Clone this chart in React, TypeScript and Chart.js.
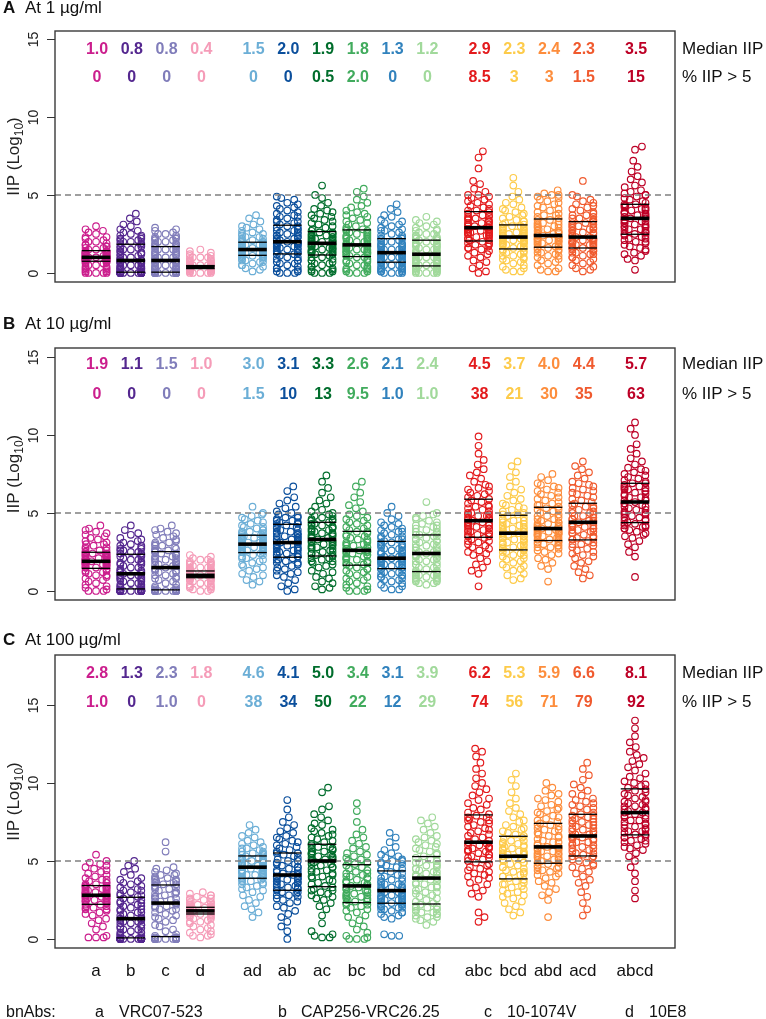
import { useEffect, useRef } from "react";
import { Chart, registerables } from "chart.js";
Chart.register(...registerables);

const FONT = "'Liberation Sans', Arial, Helvetica, sans-serif";

const groups = ["a", "b", "c", "d", "ad", "ab", "ac", "bc", "bd", "cd", "abc", "bcd", "abd", "acd", "abcd"];
const groupPos = [0, 1, 2, 3, 4.5, 5.5, 6.5, 7.5, 8.5, 9.5, 11, 12, 13, 14, 15.5];
const groupColors = [
  "#CB1E8D", "#54278F", "#807DBA", "#F59CB8", "#6BAED6", "#0B4F9C", "#006D2C", "#41AB5D",
  "#3182BD", "#A1D99B", "#E31A1C", "#FDCB4A", "#FD8D3C", "#F05A2E", "#BD0026",
];
const yTickValues = [0, 5, 10, 15];
const thresholdValue = 5;
const rowLabels = ["Median IIP", "% IIP > 5"];
const footnoteLabel = "bnAbs:";
const footnoteKeys = ["a", "b", "c", "d"];
const footnoteNames = ["VRC07-523", "CAP256-VRC26.25", "10-1074V", "10E8"];

// ---------- Panel A: at 1 µg/ml ----------
const medianTextA = ["1.0", "0.8", "0.8", "0.4", "1.5", "2.0", "1.9", "1.8", "1.3", "1.2", "2.9", "2.3", "2.4", "2.3", "3.5"];
const pctTextA = ["0", "0", "0", "0", "0", "0", "0.5", "2.0", "0", "0", "8.5", "3", "3", "1.5", "15"];
const q1A = [0.75, 0.05, 0.05, 0.28, 1.13, 1.22, 1.15, 1.05, 0.69, 0.45, 2.05, 1.54, 1.65, 1.6, 2.48];
const q3A = [1.43, 1.84, 1.69, 0.45, 1.97, 3.06, 2.65, 2.76, 2.2, 2.1, 3.93, 3.08, 3.46, 3.29, 4.4];
const iipA: number[][] = [
  [0,0,0,0,0,0.1,0.1,0.2,0.2,0.3,0.3,0.4,0.4,0.5,0.5,0.6,0.6,0.7,0.7,0.7, 0.8,0.8,0.8,0.8,0.8,0.9,0.9,0.9,0.9,0.9,0.9,0.9,1.0,1.0,1.0,1.0,1.0,1.0,1.0,1.0, 1.0,1.0,1.1,1.1,1.1,1.1,1.1,1.2,1.2,1.2,1.2,1.3,1.3,1.3,1.3,1.3,1.4,1.4,1.4,1.4, 1.5,1.5,1.6,1.6,1.7,1.7,1.8,1.8,1.9,2.0,2.0,2.1,2.2,2.3,2.3,2.5,2.6,2.7,2.8,3.0],
  [0,0,0,0,0,0,0,0,0,0,0,0,0,0,0,0,0,0,0,0.1, 0.1,0.1,0.2,0.2,0.2,0.3,0.3,0.3,0.4,0.4,0.4,0.5,0.5,0.5,0.6,0.6,0.7,0.7,0.7,0.8, 0.8,0.9,0.9,1.0,1.0,1.1,1.1,1.2,1.2,1.3,1.3,1.4,1.4,1.5,1.5,1.6,1.6,1.7,1.7,1.8, 1.9,1.9,2.0,2.0,2.1,2.1,2.2,2.2,2.3,2.4,2.4,2.5,2.6,2.7,2.8,3.0,3.1,3.3,3.5,3.8],
  [0,0,0,0,0,0,0,0,0,0,0,0,0,0,0,0,0,0,0,0.1, 0.1,0.1,0.2,0.2,0.2,0.3,0.3,0.3,0.4,0.4,0.4,0.5,0.5,0.5,0.6,0.6,0.7,0.7,0.7,0.8, 0.8,0.9,0.9,1.0,1.0,1.0,1.1,1.1,1.2,1.2,1.3,1.3,1.4,1.4,1.5,1.5,1.5,1.6,1.6,1.7, 1.7,1.8,1.8,1.9,1.9,2.0,2.0,2.1,2.1,2.2,2.2,2.3,2.3,2.4,2.5,2.5,2.6,2.7,2.8,2.9],
  [0,0,0,0,0,0.1,0.1,0.1,0.1,0.1,0.2,0.2,0.2,0.2,0.2,0.2,0.3,0.3,0.3,0.3, 0.3,0.3,0.3,0.3,0.3,0.3,0.3,0.3,0.4,0.4,0.4,0.4,0.4,0.4,0.4,0.4,0.4,0.4,0.4,0.4, 0.4,0.4,0.4,0.4,0.4,0.4,0.4,0.4,0.4,0.4,0.5,0.5,0.5,0.5,0.5,0.5,0.5,0.5,0.5,0.5, 0.5,0.6,0.6,0.6,0.7,0.7,0.7,0.8,0.8,0.9,0.9,1.0,1.0,1.0,1.1,1.1,1.2,1.3,1.4,1.5],
  [0.1,0.2,0.3,0.4,0.5,0.5,0.6,0.7,0.7,0.8,0.8,0.9,0.9,1.0,1.0,1.0,1.1,1.1,1.1,1.1, 1.2,1.2,1.2,1.2,1.3,1.3,1.3,1.3,1.3,1.4,1.4,1.4,1.4,1.4,1.4,1.5,1.5,1.5,1.5,1.5, 1.5,1.5,1.6,1.6,1.6,1.6,1.7,1.7,1.7,1.7,1.8,1.8,1.8,1.8,1.8,1.9,1.9,1.9,1.9,2.0, 2.0,2.0,2.1,2.1,2.2,2.2,2.3,2.3,2.4,2.5,2.5,2.6,2.7,2.8,2.9,3.0,3.1,3.3,3.5,3.7],
  [0,0,0,0.1,0.1,0.2,0.3,0.3,0.4,0.5,0.6,0.6,0.7,0.8,0.8,0.9,1.0,1.0,1.1,1.2, 1.2,1.3,1.3,1.4,1.4,1.5,1.5,1.6,1.6,1.6,1.7,1.7,1.8,1.8,1.8,1.9,1.9,1.9,2.0,2.0, 2.0,2.1,2.1,2.2,2.2,2.3,2.3,2.4,2.4,2.5,2.5,2.6,2.6,2.7,2.7,2.8,2.8,2.9,3.0,3.0, 3.1,3.2,3.3,3.3,3.4,3.5,3.6,3.6,3.7,3.8,3.9,4.0,4.1,4.2,4.3,4.4,4.5,4.7,4.8,4.9],
  [0,0,0,0.1,0.1,0.2,0.2,0.3,0.4,0.4,0.5,0.6,0.6,0.7,0.8,0.8,0.9,1.0,1.0,1.1, 1.2,1.2,1.3,1.3,1.3,1.4,1.4,1.4,1.5,1.5,1.5,1.6,1.6,1.6,1.7,1.7,1.7,1.8,1.8,1.8, 1.9,1.9,2.0,2.0,2.0,2.1,2.1,2.1,2.2,2.2,2.3,2.3,2.3,2.4,2.4,2.5,2.5,2.5,2.6,2.6, 2.7,2.8,2.9,3.0,3.1,3.2,3.3,3.4,3.5,3.6,3.7,3.8,3.9,4.0,4.1,4.3,4.5,4.8,5.0,5.6],
  [0,0,0,0.1,0.1,0.2,0.2,0.3,0.3,0.4,0.5,0.5,0.6,0.7,0.7,0.8,0.8,0.9,1.0,1.0, 1.1,1.1,1.2,1.2,1.3,1.3,1.3,1.4,1.4,1.4,1.5,1.5,1.5,1.6,1.6,1.6,1.7,1.7,1.7,1.8, 1.8,1.9,1.9,2.0,2.0,2.1,2.1,2.2,2.2,2.3,2.3,2.4,2.4,2.5,2.5,2.6,2.6,2.7,2.7,2.8, 2.8,2.9,3.0,3.1,3.2,3.3,3.4,3.5,3.6,3.7,3.8,3.9,4.0,4.2,4.3,4.5,4.7,4.9,5.2,5.4],
  [0,0,0,0,0.1,0.1,0.1,0.2,0.2,0.3,0.3,0.3,0.4,0.4,0.5,0.5,0.5,0.6,0.6,0.7, 0.7,0.7,0.8,0.8,0.8,0.9,0.9,0.9,1.0,1.0,1.0,1.1,1.1,1.1,1.1,1.2,1.2,1.2,1.2,1.3, 1.3,1.3,1.4,1.4,1.5,1.5,1.5,1.6,1.6,1.7,1.7,1.8,1.8,1.9,1.9,2.0,2.0,2.1,2.1,2.2, 2.2,2.3,2.4,2.4,2.5,2.6,2.7,2.7,2.8,2.9,3.0,3.1,3.2,3.3,3.4,3.6,3.7,3.9,4.1,4.4],
  [0,0,0,0,0,0.1,0.1,0.1,0.1,0.2,0.2,0.2,0.3,0.3,0.3,0.3,0.4,0.4,0.4,0.4, 0.5,0.5,0.5,0.6,0.6,0.6,0.7,0.7,0.7,0.8,0.8,0.8,0.9,0.9,0.9,1.0,1.0,1.0,1.1,1.1, 1.2,1.2,1.3,1.3,1.4,1.4,1.5,1.5,1.6,1.6,1.7,1.7,1.8,1.8,1.9,1.9,1.9,2.0,2.0,2.1, 2.1,2.2,2.2,2.3,2.3,2.4,2.4,2.5,2.5,2.6,2.7,2.7,2.8,2.9,3.0,3.1,3.2,3.3,3.4,3.6],
  [0,0.1,0.3,0.5,0.7,0.8,1.0,1.1,1.2,1.3,1.4,1.5,1.6,1.6,1.7,1.8,1.8,1.9,1.9,2.0, 2.1,2.1,2.2,2.2,2.3,2.3,2.4,2.4,2.5,2.5,2.5,2.6,2.6,2.6,2.7,2.7,2.7,2.8,2.8,2.8, 2.9,2.9,3.0,3.0,3.1,3.1,3.2,3.2,3.3,3.3,3.4,3.4,3.5,3.5,3.6,3.6,3.7,3.7,3.8,3.9, 4.0,4.0,4.1,4.2,4.3,4.4,4.5,4.6,4.7,4.8,4.9,5.0,5.0,5.2,5.4,5.7,5.9,6.7,7.4,7.8],
  [0.1,0.1,0.2,0.3,0.4,0.5,0.6,0.7,0.8,0.9,0.9,1.0,1.1,1.1,1.2,1.3,1.3,1.4,1.4,1.5, 1.6,1.6,1.7,1.7,1.8,1.8,1.8,1.9,1.9,1.9,2.0,2.0,2.0,2.1,2.1,2.1,2.2,2.2,2.2,2.2, 2.3,2.3,2.4,2.4,2.4,2.5,2.5,2.6,2.6,2.6,2.7,2.7,2.8,2.8,2.9,2.9,2.9,3.0,3.0,3.1, 3.1,3.2,3.3,3.3,3.4,3.5,3.6,3.7,3.8,3.9,4.0,4.1,4.2,4.4,4.5,4.7,4.9,5.2,5.6,6.1],
  [0.1,0.1,0.2,0.3,0.5,0.6,0.7,0.8,0.9,1.0,1.1,1.1,1.2,1.3,1.3,1.4,1.5,1.5,1.6,1.6, 1.7,1.7,1.8,1.8,1.9,1.9,2.0,2.0,2.0,2.1,2.1,2.1,2.2,2.2,2.2,2.3,2.3,2.3,2.4,2.4, 2.4,2.5,2.5,2.6,2.6,2.7,2.7,2.8,2.8,2.9,2.9,3.0,3.0,3.1,3.1,3.2,3.2,3.3,3.4,3.4, 3.5,3.6,3.7,3.7,3.8,3.9,4.0,4.1,4.2,4.3,4.4,4.5,4.6,4.7,4.8,4.9,5.0,5.0,5.1,5.3],
  [0.1,0.2,0.3,0.4,0.5,0.6,0.7,0.8,0.9,1.0,1.0,1.1,1.2,1.2,1.3,1.3,1.4,1.4,1.5,1.5, 1.6,1.6,1.7,1.7,1.8,1.8,1.8,1.9,1.9,1.9,2.0,2.0,2.0,2.1,2.1,2.1,2.2,2.2,2.2,2.3, 2.3,2.4,2.4,2.5,2.5,2.6,2.6,2.7,2.7,2.8,2.8,2.9,2.9,3.0,3.0,3.1,3.1,3.2,3.2,3.3, 3.3,3.4,3.5,3.5,3.6,3.7,3.7,3.8,3.9,4.0,4.1,4.2,4.3,4.4,4.5,4.6,4.7,4.9,5.0,5.9],
  [0.2,0.8,0.9,1.1,1.2,1.3,1.4,1.5,1.6,1.7,1.8,1.9,2.0,2.0,2.1,2.2,2.2,2.3,2.4,2.4, 2.5,2.5,2.6,2.6,2.7,2.7,2.8,2.8,2.9,2.9,3.0,3.0,3.1,3.1,3.2,3.2,3.3,3.3,3.4,3.4, 3.5,3.5,3.6,3.6,3.7,3.7,3.8,3.8,3.9,3.9,4.0,4.0,4.1,4.1,4.2,4.2,4.3,4.3,4.4,4.4, 4.5,4.6,4.7,4.8,4.9,5.0,5.0,5.1,5.2,5.3,5.5,5.6,5.8,6.0,6.2,6.5,6.8,7.2,7.9,8.1],
];

// ---------- Panel B: at 10 µg/ml ----------
const medianTextB = ["1.9", "1.1", "1.5", "1.0", "3.0", "3.1", "3.3", "2.6", "2.1", "2.4", "4.5", "3.7", "4.0", "4.4", "5.7"];
const pctTextB = ["0", "0", "0", "0", "1.5", "10", "13", "9.5", "1.0", "1.0", "38", "21", "30", "35", "63"];
const q1B = [1.45, 0.13, 0.07, 0.85, 2.46, 2.16, 2.24, 1.65, 1.43, 1.24, 3.44, 2.63, 3.23, 3.27, 4.38];
const q3B = [2.48, 2.35, 2.52, 1.28, 3.57, 4.27, 4.4, 3.82, 3.18, 3.59, 5.88, 4.85, 5.36, 5.62, 6.9];
const iipB: number[][] = [
  [0,0,0,0.1,0.2,0.3,0.4,0.5,0.6,0.7,0.8,0.9,1.0,1.0,1.1,1.2,1.2,1.3,1.3,1.4, 1.5,1.5,1.5,1.6,1.6,1.6,1.7,1.7,1.7,1.7,1.8,1.8,1.8,1.8,1.8,1.9,1.9,1.9,1.9,1.9, 2.0,2.0,2.0,2.0,2.1,2.1,2.1,2.1,2.2,2.2,2.2,2.3,2.3,2.3,2.3,2.4,2.4,2.4,2.4,2.5, 2.5,2.6,2.6,2.7,2.8,2.8,2.9,3.0,3.0,3.1,3.2,3.3,3.4,3.5,3.6,3.7,3.8,3.9,4.0,4.2],
  [0,0,0,0,0,0,0,0,0,0,0,0,0,0,0,0,0,0.1,0.1,0.1, 0.2,0.2,0.3,0.3,0.4,0.4,0.5,0.5,0.6,0.6,0.7,0.7,0.8,0.8,0.9,0.9,1.0,1.0,1.0,1.1, 1.1,1.2,1.2,1.3,1.3,1.4,1.5,1.5,1.6,1.7,1.7,1.8,1.8,1.9,2.0,2.0,2.1,2.2,2.2,2.3, 2.4,2.4,2.5,2.5,2.6,2.6,2.7,2.7,2.8,2.9,2.9,3.0,3.1,3.2,3.3,3.4,3.6,3.7,3.9,4.2],
  [0,0,0,0,0,0,0,0,0,0,0,0,0,0,0,0,0,0,0.1,0.1, 0.2,0.2,0.3,0.4,0.5,0.6,0.7,0.8,0.8,0.9,1.0,1.0,1.1,1.2,1.2,1.3,1.3,1.4,1.4,1.5, 1.6,1.6,1.7,1.7,1.8,1.8,1.9,1.9,2.0,2.0,2.1,2.1,2.2,2.2,2.3,2.3,2.4,2.4,2.5,2.5, 2.6,2.6,2.7,2.7,2.8,2.9,2.9,3.0,3.1,3.1,3.2,3.3,3.4,3.5,3.6,3.7,3.8,3.9,4.0,4.2],
  [0,0,0.1,0.1,0.2,0.2,0.3,0.3,0.4,0.4,0.5,0.5,0.6,0.6,0.7,0.7,0.7,0.8,0.8,0.8, 0.9,0.9,0.9,0.9,0.9,1.0,1.0,1.0,1.0,1.0,1.0,1.0,1.0,1.1,1.1,1.1,1.1,1.1,1.1,1.1, 1.1,1.1,1.1,1.1,1.2,1.2,1.2,1.2,1.2,1.2,1.2,1.2,1.2,1.3,1.3,1.3,1.3,1.3,1.3,1.3, 1.3,1.4,1.4,1.4,1.5,1.5,1.5,1.6,1.6,1.7,1.7,1.8,1.8,1.9,1.9,2.0,2.0,2.1,2.2,2.3],
  [0.4,0.6,0.7,0.9,1.0,1.1,1.3,1.4,1.5,1.6,1.7,1.8,1.9,2.0,2.1,2.1,2.2,2.3,2.3,2.4, 2.5,2.5,2.5,2.6,2.6,2.6,2.7,2.7,2.7,2.8,2.8,2.8,2.8,2.9,2.9,2.9,2.9,3.0,3.0,3.0, 3.0,3.1,3.1,3.1,3.1,3.2,3.2,3.2,3.3,3.3,3.3,3.4,3.4,3.4,3.4,3.5,3.5,3.5,3.6,3.6, 3.6,3.7,3.7,3.8,3.8,3.9,3.9,4.0,4.1,4.1,4.2,4.3,4.4,4.5,4.6,4.7,4.8,4.9,5.0,5.4],
  [0,0.1,0.3,0.5,0.7,0.9,1.0,1.1,1.2,1.3,1.4,1.5,1.6,1.7,1.8,1.8,1.9,2.0,2.0,2.1, 2.2,2.2,2.3,2.3,2.4,2.4,2.5,2.5,2.6,2.6,2.7,2.7,2.8,2.8,2.9,2.9,3.0,3.0,3.1,3.1, 3.2,3.2,3.3,3.3,3.4,3.4,3.5,3.5,3.6,3.6,3.7,3.7,3.8,3.8,3.9,3.9,4.0,4.1,4.1,4.2, 4.3,4.3,4.4,4.4,4.5,4.5,4.6,4.7,4.7,4.8,4.9,5.0,5.1,5.3,5.4,5.6,5.8,6.0,6.4,6.7],
  [0.1,0.2,0.3,0.5,0.6,0.8,0.9,1.1,1.2,1.3,1.5,1.6,1.7,1.8,1.9,1.9,2.0,2.1,2.1,2.2, 2.3,2.3,2.4,2.4,2.5,2.5,2.6,2.7,2.7,2.8,2.8,2.9,2.9,3.0,3.0,3.1,3.1,3.2,3.2,3.3, 3.4,3.4,3.5,3.5,3.6,3.6,3.7,3.7,3.8,3.8,3.9,3.9,4.0,4.0,4.1,4.1,4.2,4.2,4.3,4.3, 4.4,4.5,4.5,4.6,4.6,4.7,4.8,4.8,4.9,5.0,5.1,5.2,5.4,5.6,5.8,6.0,6.3,6.6,7.0,7.4],
  [0,0,0,0.1,0.2,0.3,0.4,0.5,0.6,0.7,0.8,0.9,1.0,1.1,1.2,1.3,1.4,1.4,1.5,1.6, 1.7,1.7,1.8,1.8,1.9,1.9,2.0,2.0,2.1,2.1,2.2,2.2,2.3,2.3,2.4,2.4,2.5,2.5,2.5,2.6, 2.6,2.7,2.7,2.8,2.8,2.9,2.9,3.0,3.0,3.1,3.1,3.2,3.3,3.3,3.4,3.5,3.5,3.6,3.7,3.8, 3.8,3.9,4.0,4.1,4.2,4.3,4.4,4.5,4.6,4.7,4.8,4.9,5.1,5.3,5.5,5.7,6.0,6.3,6.7,7.0],
  [0.1,0.1,0.2,0.3,0.4,0.5,0.6,0.7,0.7,0.8,0.9,0.9,1.0,1.0,1.1,1.1,1.2,1.2,1.3,1.4, 1.4,1.5,1.5,1.6,1.6,1.7,1.7,1.7,1.8,1.8,1.8,1.9,1.9,1.9,2.0,2.0,2.0,2.1,2.1,2.1, 2.2,2.2,2.3,2.3,2.4,2.4,2.5,2.5,2.6,2.6,2.7,2.7,2.8,2.8,2.9,2.9,3.0,3.0,3.1,3.1, 3.2,3.3,3.3,3.4,3.5,3.5,3.6,3.7,3.8,3.8,3.9,4.0,4.1,4.2,4.3,4.4,4.6,4.8,5.0,5.4],
  [0.4,0.5,0.5,0.6,0.6,0.7,0.7,0.8,0.8,0.9,0.9,0.9,1.0,1.0,1.0,1.1,1.1,1.1,1.2,1.2, 1.3,1.3,1.4,1.5,1.5,1.6,1.7,1.7,1.8,1.9,1.9,2.0,2.0,2.1,2.1,2.2,2.2,2.3,2.3,2.4, 2.4,2.5,2.5,2.6,2.6,2.7,2.8,2.8,2.9,2.9,3.0,3.0,3.1,3.2,3.2,3.3,3.3,3.4,3.5,3.5, 3.6,3.6,3.7,3.8,3.8,3.9,4.0,4.0,4.1,4.2,4.2,4.3,4.4,4.5,4.6,4.7,4.8,4.9,5.0,5.7],
  [0.3,1.1,1.3,1.5,1.7,1.9,2.1,2.3,2.4,2.5,2.6,2.7,2.8,2.9,3.0,3.1,3.2,3.2,3.3,3.4, 3.5,3.5,3.6,3.6,3.7,3.7,3.8,3.8,3.9,3.9,4.0,4.0,4.1,4.1,4.2,4.2,4.3,4.3,4.4,4.4, 4.5,4.6,4.6,4.7,4.7,4.8,4.8,4.9,4.9,5.0,5.0,5.1,5.2,5.3,5.4,5.4,5.5,5.6,5.7,5.8, 5.9,6.0,6.1,6.2,6.3,6.4,6.5,6.6,6.7,6.8,7.0,7.2,7.4,7.6,7.8,8.1,8.4,8.8,9.3,9.9],
  [0.7,0.8,1.0,1.1,1.3,1.4,1.5,1.6,1.7,1.8,1.9,2.0,2.1,2.2,2.3,2.3,2.4,2.5,2.5,2.6, 2.7,2.7,2.8,2.8,2.9,2.9,3.0,3.0,3.1,3.1,3.2,3.2,3.3,3.3,3.4,3.4,3.5,3.5,3.6,3.6, 3.7,3.7,3.8,3.8,3.9,3.9,4.0,4.0,4.1,4.1,4.2,4.2,4.3,4.3,4.4,4.5,4.5,4.6,4.7,4.8, 4.9,4.9,5.0,5.1,5.2,5.3,5.4,5.5,5.6,5.8,5.9,6.1,6.3,6.5,6.7,7.0,7.3,7.6,8.0,8.3],
  [0.6,1.4,1.6,1.8,2.0,2.1,2.3,2.4,2.5,2.6,2.7,2.8,2.8,2.9,2.9,3.0,3.0,3.1,3.1,3.2, 3.3,3.3,3.4,3.4,3.5,3.5,3.6,3.6,3.6,3.7,3.7,3.7,3.8,3.8,3.8,3.9,3.9,3.9,4.0,4.0, 4.1,4.1,4.2,4.2,4.3,4.3,4.4,4.4,4.5,4.6,4.6,4.7,4.8,4.8,4.9,5.0,5.1,5.2,5.2,5.3, 5.4,5.5,5.5,5.6,5.7,5.8,5.9,6.0,6.1,6.2,6.3,6.4,6.5,6.6,6.7,6.8,6.9,7.1,7.3,7.5],
  [0.8,1.0,1.2,1.4,1.6,1.8,1.9,2.1,2.2,2.3,2.4,2.5,2.6,2.7,2.8,2.9,3.0,3.0,3.1,3.2, 3.3,3.3,3.4,3.4,3.5,3.5,3.6,3.7,3.7,3.8,3.8,3.9,3.9,4.0,4.0,4.1,4.1,4.2,4.2,4.3, 4.4,4.4,4.5,4.5,4.6,4.6,4.7,4.8,4.8,4.9,5.0,5.0,5.1,5.2,5.2,5.3,5.4,5.4,5.5,5.6, 5.7,5.8,5.9,6.0,6.1,6.2,6.3,6.4,6.5,6.6,6.7,6.8,6.9,7.0,7.2,7.4,7.6,7.8,8.0,8.3],
  [0.9,2.2,2.5,2.8,3.0,3.2,3.4,3.5,3.6,3.7,3.8,3.9,4.0,4.0,4.1,4.1,4.2,4.2,4.3,4.3, 4.4,4.5,4.5,4.6,4.7,4.7,4.8,4.9,4.9,5.0,5.0,5.1,5.2,5.2,5.3,5.4,5.4,5.5,5.6,5.6, 5.7,5.8,5.8,5.9,6.0,6.0,6.1,6.2,6.2,6.3,6.4,6.4,6.5,6.5,6.6,6.6,6.7,6.7,6.8,6.9, 6.9,7.0,7.1,7.2,7.3,7.4,7.5,7.6,7.7,7.8,7.9,8.1,8.3,8.5,8.8,9.1,9.4,10.0,10.4,10.8],
];

// ---------- Panel C: at 100 µg/ml ----------
const medianTextC = ["2.8", "1.3", "2.3", "1.8", "4.6", "4.1", "5.0", "3.4", "3.1", "3.9", "6.2", "5.3", "5.9", "6.6", "8.1"];
const pctTextC = ["1.0", "0", "1.0", "0", "38", "34", "50", "22", "12", "29", "74", "56", "71", "79", "92"];
const q1C = [2.22, 0.07, 0.15, 1.6, 3.89, 3.12, 3.35, 2.33, 2.29, 2.24, 4.94, 3.85, 4.85, 5.32, 6.67];
const q3C = [3.42, 2.67, 3.46, 2.03, 5.32, 5.51, 6.07, 4.76, 4.36, 5.28, 7.95, 6.58, 7.41, 7.99, 9.62];
const iipC: number[][] = [
  [0.1,0.1,0.1,0.2,0.6,0.8,1.0,1.2,1.3,1.5,1.6,1.7,1.8,1.9,1.9,2.0,2.0,2.1,2.1,2.2, 2.2,2.3,2.3,2.4,2.4,2.4,2.5,2.5,2.5,2.6,2.6,2.6,2.6,2.7,2.7,2.7,2.7,2.8,2.8,2.8, 2.8,2.9,2.9,2.9,3.0,3.0,3.0,3.0,3.1,3.1,3.1,3.2,3.2,3.2,3.3,3.3,3.3,3.4,3.4,3.4, 3.5,3.5,3.6,3.6,3.7,3.8,3.8,3.9,4.0,4.1,4.2,4.3,4.4,4.5,4.6,4.7,4.8,4.9,5.0,5.4],
  [0,0,0,0,0,0,0,0,0,0,0,0,0,0,0,0,0,0,0.1,0.1, 0.2,0.2,0.3,0.4,0.4,0.5,0.6,0.6,0.7,0.7,0.8,0.9,0.9,1.0,1.0,1.1,1.1,1.2,1.2,1.3, 1.3,1.4,1.5,1.5,1.6,1.7,1.7,1.8,1.9,1.9,2.0,2.1,2.1,2.2,2.3,2.3,2.4,2.5,2.5,2.6, 2.7,2.8,2.8,2.9,3.0,3.1,3.1,3.2,3.3,3.4,3.5,3.6,3.7,3.8,3.9,4.1,4.3,4.5,4.7,5.0],
  [0,0,0,0,0,0,0,0,0,0,0,0,0,0,0,0,0,0.1,0.1,0.1, 0.2,0.3,0.5,0.6,0.8,0.9,1.1,1.2,1.3,1.4,1.5,1.6,1.7,1.8,1.9,1.9,2.0,2.1,2.1,2.2, 2.3,2.3,2.4,2.4,2.5,2.6,2.6,2.7,2.7,2.8,2.9,2.9,3.0,3.0,3.1,3.2,3.2,3.3,3.3,3.4, 3.5,3.5,3.6,3.6,3.7,3.7,3.8,3.8,3.9,3.9,4.0,4.1,4.1,4.2,4.3,4.4,4.5,4.6,5.6,6.2],
  [0.1,0.2,0.2,0.3,0.4,0.5,0.6,0.7,0.8,0.9,1.0,1.1,1.1,1.2,1.3,1.3,1.4,1.4,1.5,1.5, 1.6,1.6,1.6,1.6,1.7,1.7,1.7,1.7,1.7,1.7,1.8,1.8,1.8,1.8,1.8,1.8,1.8,1.8,1.8,1.8, 1.9,1.9,1.9,1.9,1.9,1.9,1.9,1.9,1.9,1.9,2.0,2.0,2.0,2.0,2.0,2.0,2.0,2.0,2.0,2.0, 2.1,2.1,2.1,2.2,2.2,2.2,2.3,2.3,2.3,2.4,2.4,2.5,2.5,2.6,2.6,2.7,2.8,2.8,2.9,3.0],
  [1.4,1.7,1.9,2.1,2.3,2.5,2.7,2.8,3.0,3.1,3.2,3.3,3.4,3.5,3.5,3.6,3.7,3.7,3.8,3.8, 3.9,3.9,4.0,4.0,4.1,4.1,4.1,4.2,4.2,4.2,4.3,4.3,4.3,4.4,4.4,4.4,4.5,4.5,4.5,4.6, 4.6,4.6,4.7,4.7,4.7,4.8,4.8,4.8,4.9,4.9,4.9,5.0,5.0,5.0,5.1,5.1,5.1,5.2,5.2,5.3, 5.3,5.4,5.4,5.5,5.5,5.6,5.6,5.7,5.8,5.8,5.9,6.0,6.1,6.2,6.3,6.5,6.6,6.8,7.0,7.3],
  [0,0.5,0.8,1.1,1.4,1.6,1.8,2.0,2.1,2.3,2.4,2.5,2.6,2.7,2.8,2.8,2.9,3.0,3.0,3.1, 3.2,3.2,3.3,3.3,3.4,3.4,3.5,3.5,3.6,3.6,3.7,3.7,3.8,3.8,3.9,3.9,3.9,4.0,4.0,4.1, 4.1,4.2,4.2,4.3,4.4,4.4,4.5,4.6,4.6,4.7,4.8,4.8,4.9,5.0,5.0,5.1,5.2,5.3,5.4,5.5, 5.5,5.6,5.7,5.8,5.9,6.0,6.1,6.2,6.3,6.4,6.5,6.6,6.8,6.9,7.1,7.3,7.5,7.8,8.3,8.9],
  [0.1,0.1,0.2,0.3,0.5,1.0,1.5,1.9,2.1,2.3,2.5,2.6,2.7,2.8,2.9,3.0,3.1,3.1,3.2,3.3, 3.4,3.5,3.6,3.7,3.8,3.9,4.0,4.0,4.1,4.2,4.3,4.3,4.4,4.5,4.6,4.6,4.7,4.8,4.8,4.9, 5.0,5.1,5.1,5.2,5.2,5.3,5.3,5.4,5.4,5.5,5.5,5.6,5.6,5.7,5.7,5.8,5.8,5.9,5.9,6.0, 6.1,6.2,6.3,6.4,6.5,6.6,6.7,6.8,6.9,7.0,7.1,7.3,7.4,7.6,7.8,8.0,8.3,8.5,9.4,9.7],
  [0,0,0,0.1,0.2,0.4,0.6,0.8,1.0,1.2,1.4,1.5,1.7,1.8,1.9,2.0,2.1,2.2,2.2,2.3, 2.4,2.4,2.5,2.5,2.6,2.6,2.7,2.7,2.8,2.8,2.9,2.9,3.0,3.0,3.1,3.1,3.2,3.2,3.3,3.4, 3.4,3.5,3.5,3.6,3.6,3.7,3.7,3.8,3.9,3.9,4.0,4.0,4.1,4.2,4.2,4.3,4.4,4.5,4.6,4.7, 4.8,4.9,4.9,5.0,5.1,5.2,5.3,5.4,5.5,5.6,5.8,5.9,6.1,6.3,6.5,6.7,7.0,7.5,8.2,8.7],
  [0.2,0.2,0.3,1.3,1.4,1.5,1.6,1.7,1.7,1.8,1.9,1.9,2.0,2.0,2.1,2.1,2.2,2.2,2.2,2.3, 2.3,2.4,2.4,2.4,2.5,2.5,2.5,2.6,2.6,2.6,2.7,2.7,2.7,2.8,2.8,2.8,2.9,2.9,3.0,3.0, 3.1,3.1,3.2,3.2,3.3,3.3,3.4,3.4,3.5,3.5,3.6,3.7,3.7,3.8,3.9,3.9,4.0,4.1,4.2,4.3, 4.4,4.4,4.5,4.6,4.7,4.8,4.8,4.9,5.0,5.0,5.1,5.2,5.3,5.4,5.5,5.7,5.9,6.2,6.5,6.8],
  [0.9,1.1,1.2,1.3,1.4,1.4,1.5,1.6,1.6,1.7,1.7,1.8,1.8,1.9,1.9,2.0,2.0,2.1,2.1,2.2, 2.3,2.4,2.5,2.6,2.7,2.8,2.9,3.0,3.0,3.1,3.2,3.3,3.3,3.4,3.5,3.5,3.6,3.7,3.7,3.8, 3.9,3.9,4.0,4.1,4.1,4.2,4.3,4.3,4.4,4.5,4.5,4.6,4.7,4.7,4.8,4.9,4.9,5.0,5.1,5.2, 5.3,5.4,5.5,5.6,5.7,5.8,5.9,6.0,6.1,6.2,6.3,6.4,6.5,6.6,6.8,7.0,7.2,7.4,7.6,7.8],
  [1.1,1.4,1.7,2.7,2.9,3.1,3.3,3.5,3.6,3.8,3.9,4.0,4.1,4.2,4.3,4.4,4.5,4.6,4.7,4.8, 4.9,5.0,5.1,5.2,5.2,5.3,5.4,5.4,5.5,5.6,5.6,5.7,5.7,5.8,5.8,5.9,5.9,6.0,6.0,6.1, 6.2,6.3,6.4,6.5,6.6,6.7,6.8,6.9,7.0,7.1,7.2,7.3,7.4,7.5,7.6,7.6,7.7,7.8,7.8,7.9, 8.0,8.1,8.3,8.4,8.6,8.7,8.9,9.0,9.2,9.4,9.6,9.8,10.0,10.3,10.6,10.9,11.3,11.7,12.0,12.2],
  [1.5,1.7,1.9,2.1,2.3,2.4,2.6,2.7,2.8,2.9,3.0,3.1,3.2,3.3,3.4,3.5,3.5,3.6,3.7,3.8, 3.9,4.0,4.0,4.1,4.2,4.3,4.3,4.4,4.5,4.6,4.6,4.7,4.8,4.9,4.9,5.0,5.1,5.1,5.2,5.3, 5.4,5.4,5.5,5.5,5.6,5.6,5.7,5.7,5.8,5.8,5.9,5.9,6.0,6.1,6.1,6.2,6.3,6.3,6.4,6.5, 6.6,6.7,6.8,6.9,7.0,7.1,7.2,7.3,7.5,7.6,7.8,8.0,8.2,8.4,8.7,9.0,9.4,9.8,10.2,10.6],
  [1.4,2.5,2.8,3.0,3.2,3.4,3.6,3.7,3.9,4.0,4.1,4.2,4.3,4.4,4.4,4.5,4.6,4.6,4.7,4.8, 4.9,4.9,5.0,5.1,5.1,5.2,5.2,5.3,5.3,5.4,5.4,5.5,5.5,5.6,5.6,5.7,5.7,5.8,5.8,5.9, 5.9,6.0,6.1,6.2,6.2,6.3,6.4,6.5,6.6,6.6,6.7,6.8,6.9,7.0,7.0,7.1,7.2,7.3,7.3,7.4, 7.5,7.6,7.7,7.8,7.9,8.0,8.1,8.2,8.3,8.4,8.5,8.6,8.8,8.9,9.0,9.2,9.3,9.5,9.7,10.0],
  [1.5,1.9,2.3,2.7,3.0,3.4,3.6,3.8,4.0,4.2,4.3,4.5,4.6,4.7,4.8,4.9,5.0,5.1,5.2,5.3, 5.3,5.4,5.5,5.5,5.6,5.7,5.8,5.8,5.9,6.0,6.0,6.1,6.2,6.2,6.3,6.4,6.4,6.5,6.5,6.6, 6.7,6.7,6.8,6.9,6.9,7.0,7.1,7.1,7.2,7.3,7.3,7.4,7.5,7.5,7.6,7.7,7.7,7.8,7.9,7.9, 8.0,8.1,8.2,8.3,8.4,8.5,8.6,8.7,8.8,8.9,9.0,9.2,9.3,9.5,9.7,9.9,10.2,10.5,10.9,11.3],
  [2.6,3.1,3.7,4.2,4.6,5.0,5.3,5.5,5.7,5.8,5.9,6.0,6.1,6.2,6.3,6.3,6.4,6.5,6.5,6.6, 6.7,6.7,6.8,6.9,6.9,7.0,7.1,7.1,7.2,7.3,7.3,7.4,7.5,7.6,7.6,7.7,7.8,7.9,7.9,8.0, 8.1,8.1,8.2,8.3,8.3,8.4,8.5,8.5,8.6,8.7,8.8,8.8,8.9,9.0,9.1,9.2,9.3,9.4,9.5,9.6, 9.7,9.8,9.9,10.0,10.1,10.3,10.4,10.6,10.8,11.0,11.2,11.4,11.6,11.8,12.0,12.3,12.6,13.0,13.5,14.0],
];

// ---------- layout (not data) ----------
const CANVAS_W = 766;
const PAD_LEFT = 55;
const PAD_RIGHT = 91;
const X_MIN = -1.18;
const X_MAX = 16.65;
const Y_MIN = -0.58;

type PanelSpec = {
  letter: string;
  title: string;
  medianText: string[];
  pctText: string[];
  q1: number[];
  q3: number[];
  values: number[][];
  top: number;
  height: number;
  padTop: number;
  padBottom: number;
  yMax: number;
  titleBase: number;
  rowBase: [number, number];
  bottomLabels: boolean;
};

const panels: PanelSpec[] = [
  { letter: "A", title: "At 1 µg/ml", medianText: medianTextA, pctText: pctTextA, q1: q1A, q3: q3A, values: iipA,
    top: 0, height: 310, padTop: 31, padBottom: 28, yMax: 15.51, titleBase: 13, rowBase: [22.5, 51], bottomLabels: false },
  { letter: "B", title: "At 10 µg/ml", medianText: medianTextB, pctText: pctTextB, q1: q1B, q3: q3B, values: iipB,
    top: 310, height: 312, padTop: 38, padBottom: 22, yMax: 15.57, titleBase: 19, rowBase: [20.5, 51], bottomLabels: false },
  { letter: "C", title: "At 100 µg/ml", medianText: medianTextC, pctText: pctTextC, q1: q1C, q3: q3C, values: iipC,
    top: 622, height: 397, padTop: 33, padBottom: 71, yMax: 18.2, titleBase: 23, rowBase: [23.3, 52], bottomLabels: true },
];

// Beeswarm ("swarm" placement, ascending priority, gutter corral)
function swarmOffsets(vals: number[], pxPerY: number, d: number, limit: number): number[] {
  const order = vals.map((_, i) => i).sort((i, j) => vals[i] - vals[j]);
  const xs: number[] = [];
  const ys: number[] = [];
  const out = new Array(vals.length).fill(0);
  let flip = 1;
  for (const i of order) {
    const yi = vals[i] * pxPerY;
    const cands: number[] = [0];
    for (let j = 0; j < xs.length; j++) {
      const dy = Math.abs(yi - ys[j]);
      if (dy < d) {
        const dx = Math.sqrt(d * d - dy * dy);
        cands.push(xs[j] + dx, xs[j] - dx);
      }
    }
    cands.sort((p, q) => Math.abs(p) - Math.abs(q) || flip * (p - q));
    flip = -flip;
    let chosen = 0;
    for (const c of cands) {
      let ok = true;
      for (let j = 0; j < xs.length; j++) {
        const dx = c - xs[j];
        const dy = yi - ys[j];
        if (dx * dx + dy * dy < d * d - 1e-6) { ok = false; break; }
      }
      if (ok) { chosen = c; break; }
    }
    xs.push(chosen);
    ys.push(yi);
    out[i] = Math.max(-limit, Math.min(limit, chosen));
  }
  return out;
}

function makeOverlay(spec: PanelSpec) {
  return {
    id: "overlay" + spec.letter,
    afterDraw(chart: any) {
      const ctx: CanvasRenderingContext2D = chart.ctx;
      const ca = chart.chartArea;
      const xs = chart.scales.x;
      const ys = chart.scales.y;
      ctx.save();
      ctx.strokeStyle = "#3a3a3a";
      ctx.lineWidth = 1.4;
      ctx.strokeRect(ca.left, ca.top, ca.right - ca.left, ca.bottom - ca.top);
      ctx.lineWidth = 1;
      ctx.strokeStyle = "#333";
      ctx.fillStyle = "#222";
      ctx.font = `14px ${FONT}`;
      ctx.textAlign = "center";
      ctx.textBaseline = "alphabetic";
      for (const t of yTickValues) {
        const py = Math.round(ys.getPixelForValue(t)) + 0.5;
        ctx.beginPath();
        ctx.moveTo(ca.left - 8, py);
        ctx.lineTo(ca.left, py);
        ctx.stroke();
        ctx.save();
        ctx.translate(38, py);
        ctx.rotate(-Math.PI / 2);
        ctx.fillText(String(t), 0, 0);
        ctx.restore();
      }
      {
        const big = `17px ${FONT}`;
        const small = `12px ${FONT}`;
        ctx.font = big;
        const w1 = ctx.measureText("IIP (Log").width;
        const w3 = ctx.measureText(")").width;
        ctx.font = small;
        const w2 = ctx.measureText("10").width;
        const total = w1 + w2 + w3;
        ctx.save();
        ctx.translate(19, (ca.top + ca.bottom) / 2);
        ctx.rotate(-Math.PI / 2);
        ctx.textAlign = "left";
        let x0 = -total / 2;
        ctx.font = big;
        ctx.fillText("IIP (Log", x0, 0);
        x0 += w1;
        ctx.font = small;
        ctx.fillText("10", x0, 4);
        x0 += w2;
        ctx.font = big;
        ctx.fillText(")", x0, 0);
        ctx.restore();
      }
      ctx.textAlign = "left";
      ctx.font = `bold 17px ${FONT}`;
      ctx.fillStyle = "#111";
      ctx.fillText(spec.letter, 3, spec.titleBase);
      ctx.font = `17px ${FONT}`;
      ctx.fillText(spec.title, 25, spec.titleBase);
      ctx.textAlign = "center";
      ctx.font = `bold 16px ${FONT}`;
      groups.forEach((_, i) => {
        const px = xs.getPixelForValue(groupPos[i]) + 1;
        ctx.fillStyle = groupColors[i];
        ctx.fillText(spec.medianText[i], px, ca.top + spec.rowBase[0]);
        ctx.fillText(spec.pctText[i], px, ca.top + spec.rowBase[1]);
      });
      ctx.textAlign = "left";
      ctx.font = `17px ${FONT}`;
      ctx.fillStyle = "#111";
      ctx.fillText(rowLabels[0], ca.right + 7, ca.top + spec.rowBase[0]);
      ctx.fillText(rowLabels[1], ca.right + 7, ca.top + spec.rowBase[1]);
      if (spec.bottomLabels) {
        ctx.textAlign = "center";
        ctx.font = `17px ${FONT}`;
        groups.forEach((g, i) => {
          ctx.fillText(g, xs.getPixelForValue(groupPos[i]), ca.bottom + 28);
        });
        ctx.font = `16px ${FONT}`;
        ctx.textAlign = "left";
        const base = chart.height - 2;
        ctx.fillText(footnoteLabel, 6, base);
        const keyX = [99, 282, 488, 629];
        const nameX = [119, 301, 507, 649];
        footnoteKeys.forEach((k, i) => {
          ctx.fillText(k, keyX[i] - 4, base);
          ctx.fillText(footnoteNames[i], nameX[i], base);
        });
      }
      ctx.restore();
    },
  };
}

function Panel({ spec }: { spec: PanelSpec }) {
  const ref = useRef<HTMLCanvasElement | null>(null);
  useEffect(() => {
    if (!ref.current) return;
    const plotW = CANVAS_W - PAD_LEFT - PAD_RIGHT;
    const plotH = spec.height - spec.padTop - spec.padBottom;
    const pxPerX = plotW / (X_MAX - X_MIN);
    const pxPerY = plotH / (spec.yMax - Y_MIN);
    const halfW = 0.41;
    const datasets: any[] = [];
    const seg = (pos: number, v: number, w: number, order: number) => ({
      type: "scatter",
      showLine: true,
      data: [{ x: pos - halfW, y: v }, { x: pos + halfW, y: v }],
      borderColor: "#000",
      borderWidth: w,
      borderCapStyle: "butt",
      pointRadius: 0,
      pointHoverRadius: 0,
      order,
    });
    spec.medianText.forEach((t, i) => datasets.push(seg(groupPos[i], parseFloat(t), 3.6, 0)));
    spec.q1.forEach((v, i) => datasets.push(seg(groupPos[i], v, 1.3, 1)));
    spec.q3.forEach((v, i) => datasets.push(seg(groupPos[i], v, 1.3, 1)));
    datasets.push({
      type: "scatter",
      showLine: true,
      data: [{ x: X_MIN, y: thresholdValue }, { x: X_MAX, y: thresholdValue }],
      borderColor: "#808080",
      borderWidth: 1.4,
      borderDash: [6, 4],
      pointRadius: 0,
      pointHoverRadius: 0,
      order: 2,
    });
    spec.values.forEach((vals, i) => {
      const offs = swarmOffsets(vals, pxPerY, 7.6, 10.5);
      datasets.push({
        type: "scatter",
        data: vals.map((v, k) => ({ x: groupPos[i] + offs[k] / pxPerX, y: v })),
        borderColor: groupColors[i],
        backgroundColor: "rgba(0,0,0,0)",
        pointRadius: 3.3,
        pointHoverRadius: 3.3,
        pointBorderWidth: 1.15,
        order: 3,
      });
    });
    const chart = new Chart(ref.current, {
      type: "scatter",
      data: { datasets },
      options: {
        responsive: false,
        animation: false,
        events: [],
        layout: { padding: { left: PAD_LEFT, right: PAD_RIGHT, top: spec.padTop, bottom: spec.padBottom } },
        scales: {
          x: { type: "linear", min: X_MIN, max: X_MAX, display: false },
          y: { type: "linear", min: Y_MIN, max: spec.yMax, display: false },
        },
        plugins: { legend: { display: false }, tooltip: { enabled: false } },
      },
      plugins: [makeOverlay(spec)],
    } as any);
    return () => chart.destroy();
  }, [spec]);
  return (
    <canvas
      ref={ref}
      width={CANVAS_W}
      height={spec.height}
      style={{ position: "absolute", left: 0, top: spec.top, display: "block", width: CANVAS_W, height: spec.height }}
    />
  );
}

export default function App() {
  return (
    <div style={{ position: "absolute", left: 0, top: 0, width: CANVAS_W, height: 1019, background: "#fff" }}>
      {panels.map((p) => (
        <Panel key={p.letter} spec={p} />
      ))}
    </div>
  );
}
